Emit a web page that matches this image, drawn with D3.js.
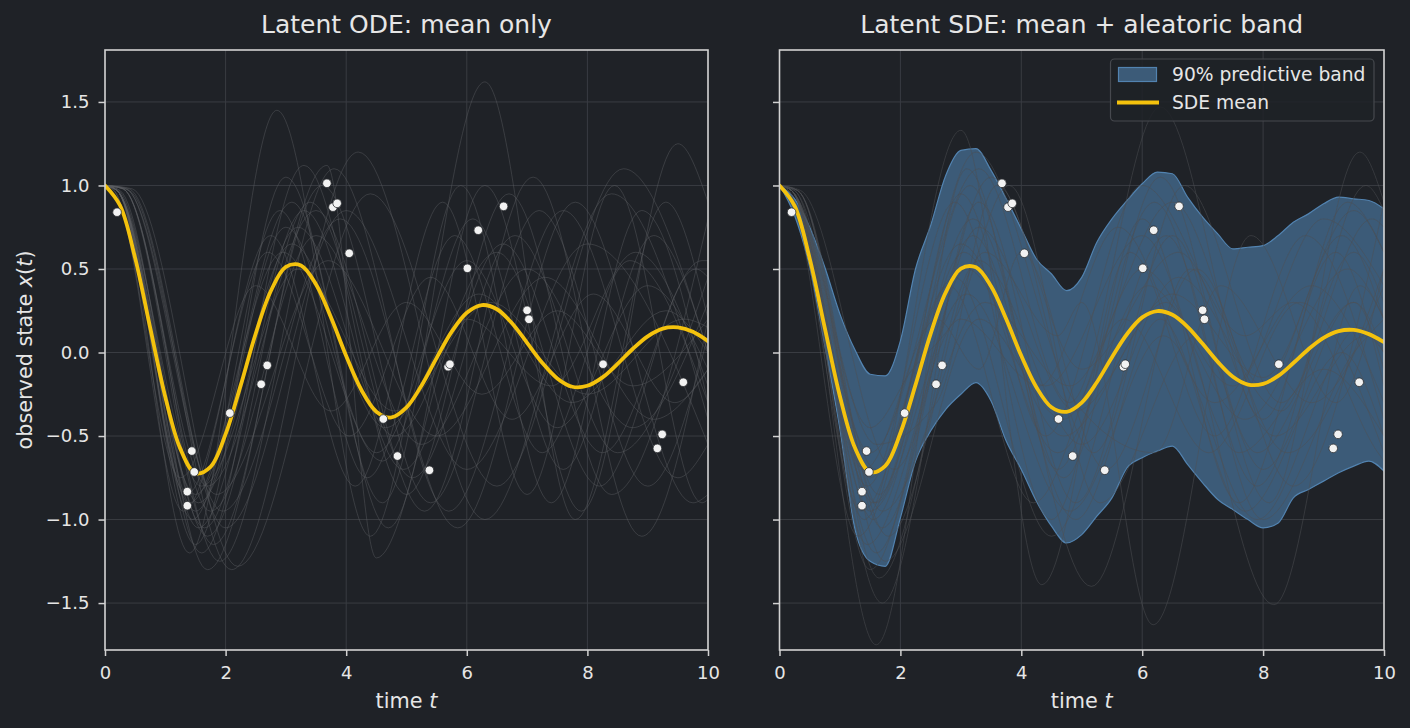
<!DOCTYPE html>
<html>
<head>
<meta charset="utf-8">
<script src="https://cdn.jsdelivr.net/npm/d3@7"></script>
<style>
body { margin: 0; background: #1f2227; }
svg text { font-family: "DejaVu Sans", sans-serif; fill: #e6e6e6; }
</style>
</head>
<body>
<script>
const svgWidth = 1410
const svgHeight = 728

// ---- data ----
const xTicks = [0, 2, 4, 6, 8, 10]
const yTicks = [-1.5, -1.0, -0.5, 0.0, 0.5, 1.0, 1.5]

const timeGrid = d3.range(0, 10.001, 0.25)

const odeMean = [1.0, 0.880, 0.565, 0.147, -0.266, -0.577, -0.723, -0.685, -0.489, -0.197,
    0.114, 0.368, 0.512, 0.521, 0.407, 0.208, -0.021, -0.223, -0.354, -0.389,
    -0.329, -0.197, -0.032, 0.125, 0.238, 0.284, 0.259, 0.175, 0.058, -0.061,
    -0.155, -0.205, -0.199, -0.149, -0.068, 0.021, 0.097, 0.143, 0.150, 0.124, 0.068]

const sdeMean = [1.0, 0.878, 0.562, 0.146, -0.263, -0.572, -0.715, -0.678, -0.482, -0.194,
    0.112, 0.360, 0.502, 0.510, 0.396, 0.200, -0.020, -0.208, -0.328, -0.355,
    -0.300, -0.178, -0.028, 0.111, 0.210, 0.248, 0.226, 0.154, 0.052, -0.056,
    -0.145, -0.192, -0.188, -0.140, -0.063, 0.020, 0.088, 0.128, 0.135, 0.110, 0.062]

const bandUpper = [1.0, 0.92, 0.75, 0.51, 0.23, 0.015, -0.13, -0.14, 0.07, 0.50,
    0.76, 1.06, 1.21, 1.22, 1.09, 0.92, 0.74, 0.56, 0.47, 0.37,
    0.45, 0.66, 0.80, 0.91, 1.01, 1.08, 1.07, 0.93, 0.81, 0.71,
    0.62, 0.63, 0.64, 0.70, 0.78, 0.83, 0.89, 0.93, 0.92, 0.91, 0.86]

const bandLower = [1.0, 0.82, 0.51, 0.04, -0.46, -1.06, -1.25, -1.28, -0.99, -0.65,
    -0.47, -0.34, -0.25, -0.18, -0.29, -0.53, -0.70, -0.89, -1.04, -1.14,
    -1.09, -0.98, -0.87, -0.69, -0.63, -0.59, -0.56, -0.67, -0.78, -0.88,
    -0.94, -1.00, -1.05, -1.02, -0.87, -0.82, -0.77, -0.72, -0.68, -0.65, -0.71]

const obsT = [0.20, 1.44, 1.365, 1.365, 1.48, 2.07, 2.59, 2.69, 3.68, 3.78, 3.85, 4.05, 4.615,
    4.85, 5.38, 5.69, 5.72, 6.01, 6.19, 6.61, 7.00, 7.03, 8.26, 9.16, 9.24, 9.59]
const obsX = [0.84, -0.59, -0.833, -0.917, -0.715, -0.363, -0.19, -0.077, 1.013, 0.87, 0.893, 0.594, -0.398,
    -0.62, -0.705, -0.085, -0.07, 0.504, 0.732, 0.875, 0.253, 0.199, -0.07, -0.574, -0.49, -0.178]

// ODE sample paths, turning points [t, x]
const odeSamples = [
    [[0, 1], [0.2, 0.97], [1.5, -0.95], [3.0, 0.75], [4.5, -0.6], [6.0, 0.55], [7.5, -0.45], [9.0, 0.4], [10, -0.1]],
    [[0, 1], [0.2, 0.98], [1.7, -1.1], [3.4, 0.9], [5.1, -0.75], [6.8, 0.7], [8.5, -0.6], [10, 0.45]],
    [[0, 1], [0.2, 0.97], [1.35, -0.85], [2.7, 0.6], [4.05, -0.5], [5.4, 0.45], [6.75, -0.4], [8.1, 0.35], [9.45, -0.3], [10, -0.1]],
    [[0, 1], [0.3, 0.98], [1.9, -1.25], [3.8, 1.1], [5.7, -0.95], [7.6, 0.85], [9.5, -0.75], [10, -0.55]],
    [[0, 1], [0.2, 0.97], [1.6, -0.8], [3.2, 0.5], [4.8, -0.35], [6.4, 0.3], [8.0, -0.25], [9.6, 0.2], [10, 0.15]],
    [[0, 1], [0.2, 0.97], [1.45, -1.0], [2.9, 0.85], [4.35, -0.75], [5.8, 0.7], [7.25, -0.6], [8.7, 0.55], [10, -0.3]],
    [[0, 1], [0.4, 0.97], [2.1, -1.3], [4.2, 1.2], [6.3, -1.0], [8.4, 0.95], [10, -0.4]],
    [[0, 1], [0.2, 0.97], [1.55, -0.9], [3.1, 0.65], [4.65, -0.45], [6.2, 0.35], [7.75, -0.3], [9.3, 0.25], [10, 0.0]],
    [[0, 1], [0.3, 0.98], [1.8, -1.15], [3.6, 1.0], [5.4, -0.9], [7.2, 0.85], [9.0, -0.8], [10, 0.1]],
    [[0, 1], [0.15, 0.97], [1.25, -0.75], [2.5, 0.4], [3.75, -0.35], [5.0, 0.3], [6.25, -0.25], [7.5, 0.25], [8.75, -0.2], [10, 0.2]],
    [[0, 1], [0.2, 0.97], [1.65, -1.05], [3.3, 0.85], [4.95, -0.7], [6.6, 0.65], [8.25, -0.6], [9.9, 0.55], [10, 0.55]],
    [[0, 1], [0.2, 0.97], [1.5, -1.15], [3.0, 1.05], [4.6, -0.9], [6.3, 1.62], [7.8, -1.0], [9.3, 0.9], [10, 0.2]],
    [[0, 1], [0.2, 0.97], [1.4, -1.2], [2.85, 1.45], [4.4, -1.1], [5.9, 1.0], [7.4, -0.9], [8.9, 0.85], [10, -0.3]],
    [[0, 1], [0.3, 0.98], [1.75, -0.95], [3.5, 0.7], [5.25, -0.55], [7.0, 0.5], [8.75, -0.45], [10, 0.3]],
    [[0, 1], [0.4, 0.98], [2.0, -1.05], [4.0, 0.85], [6.0, -0.7], [8.0, 0.65], [10, -0.55]],
    [[0, 1], [0.2, 0.97], [1.6, -1.2], [3.3, 1.12], [5.0, -0.85], [6.7, 0.95], [8.4, -0.85], [10, 0.8]],
    [[0, 1], [0.2, 0.97], [1.4, -0.9], [2.95, 0.6], [4.6, -0.65], [6.1, 0.8], [7.6, -0.7], [9.1, 0.7], [10, 0.0]],
    [[0, 1], [0.35, 0.98], [1.85, -0.85], [3.7, 0.55], [5.5, -0.5], [7.3, 0.45], [9.1, -0.4], [10, -0.1]],
    [[0, 1], [0.15, 0.97], [1.3, -0.95], [2.75, 0.7], [4.15, -0.8], [5.6, 0.9], [7.0, -0.85], [8.45, 1.0], [9.9, -0.9], [10, -0.88]],
    [[0, 1], [0.3, 0.98], [1.7, -0.8], [3.5, 0.85], [5.3, -0.95], [7.1, 1.05], [8.9, -1.1], [10, 0.2]],
    [[0, 1], [0.45, 0.98], [2.2, -1.28], [4.4, 0.95], [6.5, -0.8], [8.6, 1.1], [10, 0.0]],
    [[0, 1], [0.2, 0.97], [1.5, -0.85], [3.1, 0.9], [4.7, -1.05], [6.3, 1.0], [7.9, -0.95], [9.5, 1.25], [10, 0.9]],
    [[0, 1], [0.2, 0.97], [1.55, -1.05], [3.2, 0.75], [4.8, -0.5], [6.5, 0.6], [8.2, -0.8], [9.8, 0.5], [10, 0.45]],
    [[0, 1], [0.35, 0.98], [1.95, -0.95], [3.9, 0.8], [5.85, -1.05], [7.8, 0.9], [9.75, -0.9], [10, -0.85]],
    [[0, 1], [0.25, 0.97], [1.7, -1.3], [3.68, 1.12], [4.5, -1.23], [6.0, 0.2], [7.4, -0.2], [8.8, 0.6], [10, -0.2]]
]

// SDE sample paths, turning points [t, x]
const sdeSamples = [
    [[0, 1], [0.2, 0.97], [1.6, -1.75], [3.1, 1.1], [4.6, -0.7], [6.2, 0.9], [7.9, -0.8], [9.5, 0.6], [10, 0.3]],
    [[0, 1], [0.2, 0.97], [1.7, -1.5], [3.3, 0.9], [4.9, -0.9], [6.5, 0.7], [8.1, -0.9], [9.6, 1.2], [10, 0.9]],
    [[0, 1], [0.2, 0.97], [1.4, -1.0], [3.0, 1.33], [4.34, -1.39], [5.8, 0.6], [7.2, -0.5], [8.7, 0.7], [10, -0.4]],
    [[0, 1], [0.2, 0.97], [1.55, -0.9], [3.2, 0.8], [5.16, -1.40], [6.8, 0.5], [8.4, -0.6], [10, 0.5]],
    [[0, 1], [0.2, 0.97], [1.5, -0.6], [3.3, 1.1], [4.8, -0.3], [6.3, 1.47], [8.0, -0.4], [9.4, 0.9], [10, 0.6]],
    [[0, 1], [0.3, 0.97], [1.8, -1.1], [3.4, 0.6], [4.6, 0.1], [5.0, 0.3], [6.18, -1.63], [7.8, 0.7], [9.2, -0.3], [10, 0.5]],
    [[0, 1], [0.2, 0.97], [1.6, -1.2], [3.1, 0.5], [4.7, -0.5], [6.4, 0.3], [8.18, -1.51], [9.6, 0.4], [10, 0.2]],
    [[0, 1], [0.2, 0.97], [1.45, -0.8], [2.9, 0.9], [4.5, -1.0], [6.0, 0.8], [7.6, -0.9], [9.2, 0.6], [10, -0.2]],
    [[0, 1], [0.2, 0.97], [1.6, -0.55], [2.6, -0.3], [3.6, 1.0], [5.2, -0.6], [6.7, 1.0], [8.3, -0.3], [9.8, 0.8], [10, 0.75]],
    [[0, 1], [0.15, 0.97], [1.3, -1.1], [2.8, 0.4], [4.2, -0.9], [5.7, 0.2], [7.1, -0.6], [8.6, 0.3], [10, -0.6]],
    [[0, 1], [0.3, 0.97], [1.7, -0.95], [3.4, 0.3], [4.8, -0.2], [6.5, 0.9], [8.0, -0.2], [9.3, 0.7], [10, 0.2]],
    [[0, 1], [0.2, 0.97], [1.5, -1.3], [3.2, 0.7], [4.9, -1.0], [6.3, 0.2], [7.7, -0.95], [9.3, 0.0], [10, -0.5]],
    [[0, 1], [0.35, 0.97], [1.9, -0.7], [3.5, 1.05], [5.0, -0.1], [6.6, 0.6], [8.2, -0.5], [9.7, 0.1], [10, 0.0]],
    [[0, 1], [0.2, 0.97], [1.55, -1.0], [3.05, 0.6], [4.6, -0.6], [6.1, 0.4], [7.7, -0.4], [9.4, 0.5], [10, 0.2]],
    [[0, 1], [0.2, 0.97], [1.4, -0.7], [2.6, 0.2], [3.3, -0.1], [4.0, 0.6], [5.4, -0.7], [6.9, 0.5], [8.5, -0.8], [10, 0.9]],
    [[0, 1], [0.3, 0.97], [1.75, -1.25], [3.3, 0.2], [4.7, -0.4], [6.0, 0.5], [7.5, -0.2], [9.0, 0.8], [10, 0.4]],
    [[0, 1], [0.2, 0.97], [1.5, -0.45], [2.2, -0.1], [2.9, 0.2], [3.8, 1.0], [5.3, -0.9], [6.9, 0.1], [8.0, -0.7], [9.5, 0.3], [10, -0.1]],
    [[0, 1], [0.25, 0.97], [1.65, -0.85], [3.0, 0.95], [4.4, -0.5], [6.0, 1.0], [7.7, 0.1], [8.5, 0.3], [9.9, -0.6], [10, -0.65]],
    [[0, 1], [0.15, 0.97], [1.35, -0.95], [2.9, 0.45], [4.5, -1.1], [6.4, 0.7], [8.0, -1.0], [9.5, 0.0], [10, 0.2]],
    [[0, 1], [0.2, 0.97], [1.6, -0.7], [3.25, 1.2], [4.9, -0.3], [6.2, -0.6], [7.3, 0.4], [8.8, -0.3], [10, 0.4]],
    [[0, 1], [0.3, 0.97], [1.7, -1.05], [3.3, 0.75], [4.9, -0.35], [6.5, 0.35], [8.0, -0.15], [9.5, 0.85], [10, 0.6]],
    [[0, 1], [0.2, 0.97], [1.45, -1.15], [3.0, 0.2], [4.3, -0.2], [5.6, 0.75], [7.2, -0.3], [8.8, 0.4], [10, -0.3]],
    [[0, 1], [0.2, 0.97], [1.6, -0.9], [3.15, 1.0], [4.7, -0.75], [6.3, 1.05], [7.9, -0.6], [9.5, 0.3], [10, 0.0]],
    [[0, 1], [0.2, 0.97], [1.5, -0.95], [3.1, 0.35], [4.8, -0.95], [6.35, 0.1], [7.9, -1.0], [9.6, 0.15], [10, 0.0]],
    [[0, 1], [0.25, 0.97], [1.65, -1.35], [3.3, 0.55], [5.0, -0.55], [6.6, 0.45], [8.3, -0.35], [9.7, 1.0], [10, 0.85]],
    [[0, 1], [0.2, 0.97], [1.5, -0.75], [3.0, 0.65], [4.4, -0.2], [6.0, 0.7], [7.6, -0.6], [9.0, -0.1], [10, -0.5]]
]

// ---- layout ----
const panelTop = 50
const panelBottom = 650
const chartHeight = panelBottom - panelTop
const yDomain = [-1.781, 1.811]

const gold = "#f4c20d"
const bandFill = "#3c5b78"
const bandEdge = "#5283b0"
const gridColor = "#393c42"
const spineColor = "#d2d2d2"

const svg = d3.select("body").append("svg")
    .attr("width", svgWidth)
    .attr("height", svgHeight)

svg.append("rect")
    .attr("width", svgWidth)
    .attr("height", svgHeight)
    .attr("fill", "#1f2227")

function drawPanel(x0, x1, title, showYLabels, id) {
    const chartWidth = x1 - x0
    const x = d3.scaleLinear().domain([0, 10]).range([0, chartWidth])
    const y = d3.scaleLinear().domain(yDomain).range([chartHeight, 0])

    const g = svg.append("g")
        .attr("transform", `translate(${x0}, ${panelTop})`)

    svg.append("clipPath").attr("id", id)
        .append("rect").attr("width", chartWidth).attr("height", chartHeight)

    // grid
    g.selectAll(".gx").data(xTicks).enter().append("line")
        .attr("x1", d => x(d)).attr("x2", d => x(d))
        .attr("y1", 0).attr("y2", chartHeight)
        .attr("stroke", gridColor).attr("stroke-width", 1)
    g.selectAll(".gy").data(yTicks).enter().append("line")
        .attr("x1", 0).attr("x2", chartWidth)
        .attr("y1", d => y(d)).attr("y2", d => y(d))
        .attr("stroke", gridColor).attr("stroke-width", 1)

    const xAxis = d3.axisBottom(x).tickValues(xTicks).tickFormat(d3.format("d"))
        .tickSize(6).tickPadding(10)
    const yAxis = d3.axisLeft(y).tickValues(yTicks).tickFormat(showYLabels ? d3.format(".1f") : "")
        .tickSize(6.5).tickPadding(9)

    const xg = g.append("g").attr("transform", `translate(0, ${chartHeight})`).call(xAxis)
    const yg = g.append("g").call(yAxis)
    for (const a of [xg, yg]) {
        a.select(".domain").remove()
        a.selectAll("line").attr("stroke", spineColor).attr("stroke-width", 1.5)
        a.selectAll("text").attr("fill", "#e6e6e6").style("font-size", "18px")
            .style("font-family", "DejaVu Sans, sans-serif")
    }

    // title
    svg.append("text")
        .attr("x", x0 + chartWidth / 2)
        .attr("y", 33)
        .attr("text-anchor", "middle")
        .style("font-size", "25px")
        .text(title)

    // x label
    const xl = svg.append("text")
        .attr("x", x0 + chartWidth / 2)
        .attr("y", 708)
        .attr("text-anchor", "middle")
        .style("font-size", "20.8px")
    xl.append("tspan").text("time ")
    xl.append("tspan").style("font-style", "italic").text("t")

    const plot = g.append("g").attr("clip-path", `url(#${id})`)

    return { g, x, y, plot, chartWidth }
}

const left = drawPanel(105, 708, "Latent ODE: mean only", true, "clipL")
const right = drawPanel(779.5, 1384, "Latent SDE: mean + aleatoric band", false, "clipR")

// y label
const yl = svg.append("text")
    .attr("transform", `translate(31.5, 350) rotate(-90)`)
    .attr("text-anchor", "middle")
    .style("font-size", "20.8px")
yl.append("tspan").text("observed state ")
yl.append("tspan").style("font-style", "italic").text("x")
yl.append("tspan").text("(")
yl.append("tspan").style("font-style", "italic").text("t")
yl.append("tspan").text(")")

function drawSamples(p, samples, color, opacity) {
    const line = d3.line()
        .x(d => p.x(d[0]))
        .y(d => p.y(d[1]))
        .curve(d3.curveMonotoneX)
    p.plot.selectAll(".sample").data(samples).enter().append("path")
        .attr("d", d => line(d))
        .attr("fill", "none")
        .attr("stroke", color)
        .attr("stroke-opacity", opacity)
        .attr("stroke-width", 1)
}

function drawMean(p, values) {
    const line = d3.line()
        .x((d, i) => p.x(timeGrid[i]))
        .y(d => p.y(d))
        .curve(d3.curveCatmullRom)
    p.plot.append("path")
        .attr("d", line(values))
        .attr("fill", "none")
        .attr("stroke", gold)
        .attr("stroke-width", 3.8)
        .attr("stroke-linecap", "round")
}

function drawObs(p) {
    p.plot.selectAll(".obs").data(obsT).enter().append("circle")
        .attr("cx", d => p.x(d))
        .attr("cy", (d, i) => p.y(obsX[i]))
        .attr("r", 4.3)
        .attr("fill", "#f2f2f2")
        .attr("stroke", "#2b2d31")
        .attr("stroke-width", 0.8)
}

function drawSpines(p) {
    p.g.append("rect")
        .attr("width", p.chartWidth)
        .attr("height", chartHeight)
        .attr("fill", "none")
        .attr("stroke", spineColor)
        .attr("stroke-width", 1.6)
}

// left panel
drawSamples(left, odeSamples, "#5c5e62", 0.45)
drawMean(left, odeMean)
drawObs(left)
drawSpines(left)

// right panel
const band = d3.area()
    .x((d, i) => right.x(timeGrid[i]))
    .y0((d, i) => right.y(bandLower[i]))
    .y1(d => right.y(d))
    .curve(d3.curveMonotoneX)

right.plot.append("path")
    .attr("d", band(bandUpper))
    .attr("fill", bandFill)
    .attr("stroke", bandEdge)
    .attr("stroke-width", 1.2)

drawSamples(right, sdeSamples, "#4e5054", 0.5)
drawMean(right, sdeMean)
drawObs(right)
drawSpines(right)

// legend
const legend = svg.append("g")
legend.append("rect")
    .attr("x", 1110.5).attr("y", 59)
    .attr("width", 263.5).attr("height", 62)
    .attr("rx", 4)
    .attr("fill", "#1f2227").attr("fill-opacity", 0.85)
    .attr("stroke", "#46494e").attr("stroke-width", 1.2)
legend.append("rect")
    .attr("x", 1118.5).attr("y", 67.5)
    .attr("width", 38).attr("height", 14)
    .attr("fill", bandFill)
    .attr("stroke", bandEdge).attr("stroke-width", 1.2)
legend.append("line")
    .attr("x1", 1117).attr("x2", 1159)
    .attr("y1", 102.5).attr("y2", 102.5)
    .attr("stroke", gold).attr("stroke-width", 3.8)
legend.append("text")
    .attr("x", 1172).attr("y", 81)
    .style("font-size", "18.7px")
    .text("90% predictive band")
legend.append("text")
    .attr("x", 1172).attr("y", 109)
    .style("font-size", "18.7px")
    .text("SDE mean")
</script>
</body>
</html>
